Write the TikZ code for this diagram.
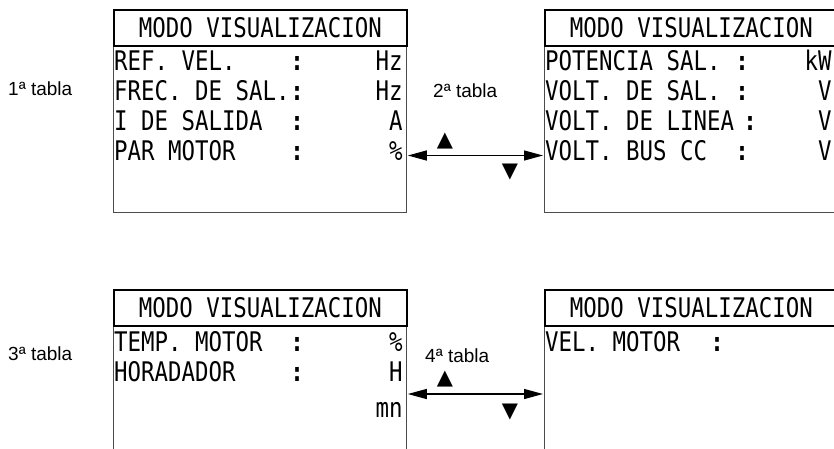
\documentclass[tikz,border=0pt]{standalone}
\usepackage{fontspec}
\setsansfont{Liberation Sans}
\newfontfamily\lcdfont[FakeStretch=0.83]{DejaVu Sans Mono}
\newfontfamily\symfont{DejaVu Sans}
\usetikzlibrary{arrows.meta, calc}

\tikzset{
  pantalla/.style={draw=black!70, line width=0.8pt, minimum width=293pt, inner sep=0pt, anchor=north west},
  titulo/.style={draw=black, line width=1.8pt, minimum width=293pt, minimum height=36pt, inner sep=0pt,
    anchor=north west, font=\lcdfont\fontsize{27}{27}\selectfont},
  lcd/.style={font=\lcdfont\fontsize{27}{27}\selectfont, inner sep=0pt, anchor=base west},
  dospuntos/.style={lcd, font=\lcdfont\bfseries\fontsize{27}{27}\selectfont, anchor=base},
  etiqueta/.style={font=\sffamily\fontsize{19}{19}\selectfont, inner sep=0pt, anchor=base west},
  tecla/.style={font=\symfont\fontsize{21}{21}\selectfont, inner sep=0pt},
  flecha/.style={{Triangle[length=19pt,width=10pt]}-{Triangle[length=19pt,width=10pt]}, line width=1.3pt}
}

\begin{document}
\begin{tikzpicture}[x=1pt, y=-1pt]
    \useasboundingbox (0,0) rectangle (834,448);
    \clip (0,0) rectangle (834,448);
    % pantallas
    \node[pantalla, minimum height=203pt] (s1) at (113,9) {};
    \node[pantalla, minimum height=203pt] (s2) at (544,9) {};
    \node[pantalla, minimum height=180pt] (s3) at (113,289) {};
    \node[pantalla, minimum height=180pt] (s4) at (544,289) {};
    \foreach \s in {1,2,3,4} {
        \node[titulo] (t\s) at (s\s.north west) {MODO VISUALIZACION};
    }
    % 1a tabla
    \foreach \txt/\ud [count=\i] in {REF. VEL./Hz, FREC. DE SAL./Hz, I DE SALIDA/A, PAR MOTOR/\%} {
        \node[lcd] (f1-\i) at ($(s1.north west)+(1,31+30*\i)$) {\txt};
        \node[dospuntos] (d1-\i) at ($(s1.north west)+(184,31+30*\i)$) {:};
        \node[lcd, anchor=base east] (u1-\i) at ($(s1.north east)+(-4,31+30*\i)$) {\ud};
    }
    % 2a tabla
    \foreach \txt/\cx/\ud [count=\i] in {POTENCIA SAL./198/kW, VOLT. DE SAL./198/V, VOLT. DE LINEA/206/V, VOLT. BUS CC/198/V} {
        \node[lcd] (f2-\i) at ($(s2.north west)+(1,31+30*\i)$) {\txt};
        \node[dospuntos] (d2-\i) at ($(s2.north west)+(\cx,31+30*\i)$) {:};
        \node[lcd, anchor=base east] (u2-\i) at ($(s2.north east)+(-6,31+30*\i)$) {\ud};
    }
    % 3a tabla
    \foreach \txt/\ud [count=\i] in {TEMP. MOTOR/\%, HORADADOR/H} {
        \node[lcd] (f3-\i) at ($(s3.north west)+(1,32+30*\i)$) {\txt};
        \node[dospuntos] (d3-\i) at ($(s3.north west)+(184,32+30*\i)$) {:};
        \node[lcd, anchor=base east] (u3-\i) at ($(s3.north east)+(-4,32+30*\i)$) {\ud};
    }
    \node[lcd, anchor=base east] (u3-3) at ($(s3.north east)+(-4,128)$) {mn};
    % 4a tabla
    \node[lcd] (f4-1) at ($(s4.north west)+(1,62)$) {VEL. MOTOR};
    \node[dospuntos] (d4-1) at ($(s4.north west)+(173,62)$) {:};
    % etiquetas
    \node[etiqueta] (e1) at (8,95) {1ª tabla};
    \node[etiqueta] (e2) at (433,97) {2ª tabla};
    \node[etiqueta] (e3) at (8,360) {3ª tabla};
    \node[etiqueta] (e4) at (425,362) {4ª tabla};
    % flechas entre tablas
    \draw[flecha] ($(s1.north east)+(1,146.5)$) -- ($(s2.north west)+(-1,146.5)$);
    \draw[flecha] ($(s3.north east)+(1,105)$) -- ($(s4.north west)+(-1,105)$);
    \node[tecla] (a1) at (445,141.5) {▲};
    \node[tecla] (b1) at (510,172.5) {▼};
    \node[tecla] (a2) at (445,379.5) {▲};
    \node[tecla] (b2) at (510,412.5) {▼};
\end{tikzpicture}
\end{document}
